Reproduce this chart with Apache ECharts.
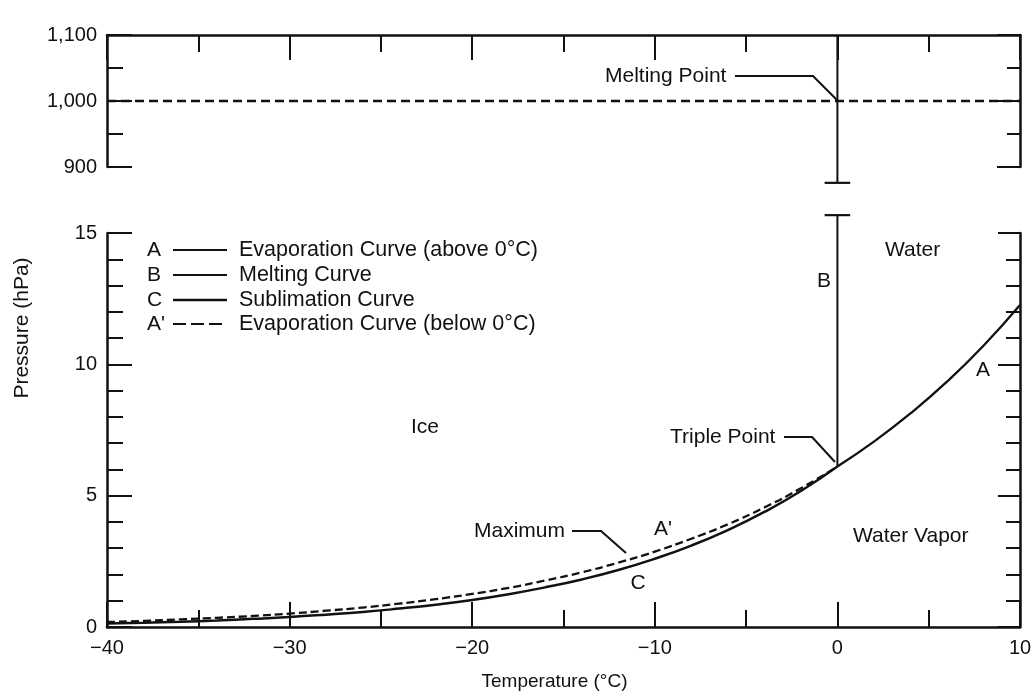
<!DOCTYPE html>
<html>
<head>
<meta charset="utf-8">
<script src="https://cdn.jsdelivr.net/npm/echarts@6/dist/echarts.min.js"></script>
<style>
html,body{margin:0;padding:0;background:#fff;}
#chart{width:1036px;height:696px;}
</style>
</head>
<body>
<div id="chart"></div>
<script>
// ---- Data ----
const tempsBelow = [-40,-38,-36,-34,-32,-30,-28,-26,-24,-22,-20,-18,-16,-14,-12,-10,-8,-6,-4,-2,0];
const waterBelow = [0.19,0.23,0.29,0.35,0.42,0.51,0.62,0.74,0.89,1.06,1.26,1.49,1.77,2.08,2.45,2.87,3.36,3.91,4.55,5.28,6.11]; // A'
const iceBelow   = [0.13,0.16,0.20,0.25,0.31,0.38,0.47,0.57,0.70,0.85,1.03,1.25,1.51,1.81,2.17,2.60,3.10,3.69,4.38,5.18,6.11]; // C
const tempsAbove = [0,2,4,6,8,10];
const waterAbove = [6.11,7.06,8.13,9.34,10.71,12.26]; // A
const meltTemps = [0,0];
const meltLower = [6.11,15.68];     // B in lower panel (runs past the broken axis)
const meltUpper = [1100,876];       // B in upper panel
const refTemps = [-40,10];
const refPressure = [1000,1000];    // melting point pressure line
const xTicks = [-40,-30,-20,-10,0,10];
const yTicksLow = [0,5,10,15];
const yTicksHigh = [900,1000,1100];

const zip = (a,b)=>a.map((v,i)=>[v,b[i]]);
const INK = '#111111';
const FONT = '"Liberation Sans", Arial, sans-serif';

function xAxisCfg(extra){
  return Object.assign({
    type:'value', min:xTicks[0], max:xTicks[xTicks.length-1], interval:10,
    axisLine:{show:true, onZero:false, lineStyle:{color:INK,width:2.5}},
    axisTick:{show:true, inside:true, length:25, lineStyle:{color:INK,width:2}},
    minorTick:{show:true, splitNumber:2, length:17, lineStyle:{color:INK,width:2}},
    splitLine:{show:false}, minorSplitLine:{show:false}
  }, extra);
}
function yAxisCfg(extra){
  return Object.assign({
    type:'value',
    axisLine:{show:true, onZero:false, lineStyle:{color:INK,width:2.5}},
    splitLine:{show:false}, minorSplitLine:{show:false}
  }, extra);
}
const tickStyle = {color:INK,width:2};

const option = {
  backgroundColor:'#fff',
  animation:false,
  grid:[
    {left:107, right:16, top:35, height:132},
    {left:107, right:16, top:233, height:395}
  ],
  xAxis:[
    xAxisCfg({gridIndex:0, position:'top', axisLabel:{show:false}}),
    xAxisCfg({gridIndex:1, position:'bottom',
      axisLabel:{show:true, color:INK, fontFamily:FONT, fontSize:20, margin:11,
        formatter:v=> v<0 ? '\u2212'+(-v) : String(v)},
      name:'Temperature (\u00B0C)', nameLocation:'middle', nameGap:45,
      nameTextStyle:{color:INK, fontFamily:FONT, fontSize:19, padding:[0,18,0,0]}})
  ],
  yAxis:[
    yAxisCfg({gridIndex:0, position:'left', min:yTicksHigh[0], max:yTicksHigh[2], interval:100,
      axisTick:{show:true, inside:true, length:25, lineStyle:tickStyle},
      minorTick:{show:true, splitNumber:2, length:16, lineStyle:tickStyle},
      axisLabel:{show:true, color:INK, fontFamily:FONT, fontSize:20, margin:10,
        formatter:v=>v.toLocaleString('en-US')}}),
    yAxisCfg({gridIndex:0, position:'right', min:yTicksHigh[0], max:yTicksHigh[2], interval:100,
      axisTick:{show:true, inside:true, length:23, lineStyle:tickStyle},
      minorTick:{show:true, splitNumber:2, length:13, lineStyle:tickStyle},
      axisLabel:{show:false}}),
    yAxisCfg({gridIndex:1, position:'left', min:yTicksLow[0], max:yTicksLow[3], interval:5,
      axisTick:{show:true, inside:true, length:25, lineStyle:tickStyle},
      minorTick:{show:true, splitNumber:5, length:16, lineStyle:tickStyle},
      axisLabel:{show:true, color:INK, fontFamily:FONT, fontSize:20, margin:10}}),
    yAxisCfg({gridIndex:1, position:'right', min:yTicksLow[0], max:yTicksLow[3], interval:5,
      axisTick:{show:true, inside:true, length:22, lineStyle:tickStyle},
      minorTick:{show:true, splitNumber:5, length:14, lineStyle:tickStyle},
      axisLabel:{show:false}})
  ],
  series:[
    {name:"A'", type:'line', xAxisIndex:1, yAxisIndex:2, data:zip(tempsBelow,waterBelow),
      smooth:true, showSymbol:false, symbol:'none',
      lineStyle:{color:INK, width:2.3, type:[8,4]}},
    {name:'C', type:'line', xAxisIndex:1, yAxisIndex:2, data:zip(tempsBelow,iceBelow),
      smooth:true, showSymbol:false, symbol:'none',
      lineStyle:{color:INK, width:2.5}},
    {name:'A', type:'line', xAxisIndex:1, yAxisIndex:2, data:zip(tempsAbove,waterAbove),
      smooth:true, showSymbol:false, symbol:'none',
      lineStyle:{color:INK, width:2.3}},
    {name:'B', type:'line', xAxisIndex:1, yAxisIndex:2, data:zip(meltTemps,meltLower),
      clip:false, showSymbol:false, symbol:'none', lineStyle:{color:INK, width:2}},
    {name:'Bcap', type:'line', xAxisIndex:1, yAxisIndex:2, data:[[-0.7,meltLower[1]],[0.7,meltLower[1]]],
      clip:false, showSymbol:false, symbol:'none', lineStyle:{color:INK, width:2.2}},
    {name:'Btop', type:'line', xAxisIndex:0, yAxisIndex:0, data:zip(meltTemps,meltUpper),
      clip:false, showSymbol:false, symbol:'none', lineStyle:{color:INK, width:2}},
    {name:'BtopCap', type:'line', xAxisIndex:0, yAxisIndex:0, data:[[-0.7,meltUpper[1]],[0.7,meltUpper[1]]],
      clip:false, showSymbol:false, symbol:'none', lineStyle:{color:INK, width:2.2}},
    {name:'MeltingPoint', type:'line', xAxisIndex:0, yAxisIndex:0, data:zip(refTemps,refPressure),
      showSymbol:false, symbol:'none', lineStyle:{color:INK, width:2.4, type:[9,5]}}
  ],
  graphic:[]
};

function txt(text,x,y,size,align,rot){
  return {type:'text', silent:true, z:100, x:x, y:y, rotation:rot||0,
    style:{text:text, x:0, y:0, fill:INK,
    font:(size||21)+'px '+FONT, textAlign:align||'left', verticalAlign:'middle', textVerticalAlign:'middle'}};
}
function pl(points,w){
  return {type:'polyline', silent:true, z:100, shape:{points:points}, style:{stroke:INK, lineWidth:w||2, fill:null}};
}
function ln(x1,y1,x2,y2,w,dash){
  return {type:'line', silent:true, z:100, shape:{x1:x1,y1:y1,x2:x2,y2:y2},
    style:{stroke:INK, lineWidth:w, lineDash:dash||null}};
}
const g = option.graphic;
// y-axis title
g.push(txt('Pressure (hPa)',22,328,21,'center',Math.PI/2));
// legend
const legRows = [
  ['A','Evaporation Curve (above 0\u00B0C)',250,2,null],
  ['B','Melting Curve',275,1.8,null],
  ['C','Sublimation Curve',300,2.6,null],
  ["A'",'Evaporation Curve (below 0\u00B0C)',324,2,[13,5]]
];
legRows.forEach(r=>{
  g.push(txt(r[0],147,r[2],21));
  g.push(ln(173,r[2],227,r[2],r[3],r[4]));
  g.push(txt(r[1],239,r[2],21.5));
});
// annotations
g.push(txt('Melting Point',605,76,21));
g.push(pl([[735,76],[813,76],[837,100]],2));
g.push(txt('Triple Point',670,437,21));
g.push(pl([[784,437],[812,437],[835,462]],2));
g.push(txt('Maximum',474,531,21));
g.push(pl([[572,531],[601,531],[626,553]],2));
g.push(txt('Water',885,250,21));
g.push(txt('B',824,281,21,'center'));
g.push(txt('A',983,370,21,'center'));
g.push(txt('Ice',425,427,21,'center'));
g.push(txt("A'",663,529,21,'center'));
g.push(txt('C',638,583,21,'center'));
g.push(txt('Water Vapor',853,536,21));

const chart = echarts.init(document.getElementById('chart'), null, {renderer:'canvas'});
chart.setOption(option);
</script>
</body>
</html>
